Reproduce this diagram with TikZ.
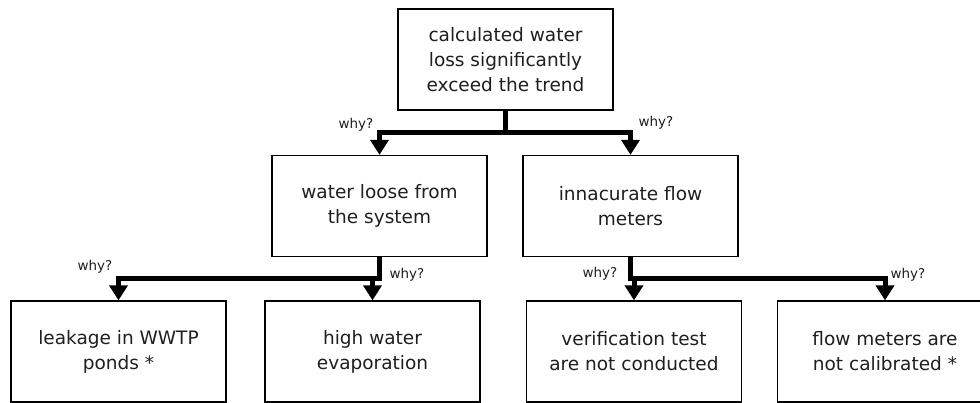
\documentclass[tikz,border=0pt]{standalone}
\usepackage{fontspec}
\setmainfont{DejaVu Sans}
\usetikzlibrary{arrows.meta}
\begin{document}
\begin{tikzpicture}[x=1pt,y=-1pt,
  box/.style={draw, line width=1.3pt, minimum width=215pt, minimum height=101pt, inner sep=0pt, align=center, text=black!88, font=\fontsize{18.5}{25}\selectfont},
  bar/.style={line width=5pt, line join=miter, -{Triangle[width=18pt,length=15pt]}},
  why/.style={font=\fontsize{13.5}{16}\selectfont, inner sep=0pt, text=black!88}]
\useasboundingbox (0,0) rectangle (980,403);
\clip (0,0) rectangle (980,403);
\fill[white] (0,0) rectangle (980,403);
\node[box] (top) at (505.5,59.5) {calculated water\\loss significantly\\exceed the trend};
\node[box] (a) at (379.5,206) {water loose from\\the system};
\node[box] (b) at (630.5,206) {innacurate flow\\meters};
\node[box] (a1) at (118.5,351.5) {leakage in WWTP\\ponds *};
\node[box] (a2) at (372.5,351.5) {high water\\evaporation};
\node[box] (b1) at (634,351.5) {verification test\\are not conducted};
\node[box] (b2) at (885,351.5) {flow meters are\\not calibrated *};
\coordinate (j0) at (505.5,133);
\coordinate (j1) at (379.5,279);
\coordinate (j2) at (630.5,279);
\draw[bar] (top.south) -- (j0) -| (a.north);
\draw[bar] (top.south) -- (j0) -| (b.north);
\draw[bar] (a.south) -- (j1) -| (a1.north);
\draw[bar] (a.south) -- (j1) -| (a2.north);
\draw[bar] (b.south) -- (j2) -| (b1.north);
\draw[bar] (b.south) -- (j2) -| (b2.north);
\node[why] (w1) at (356,125) {why?};
\node[why] (w2) at (656,123) {why?};
\node[why] (w3) at (95,267) {why?};
\node[why] (w4) at (407,275) {why?};
\node[why] (w5) at (600,274) {why?};
\node[why] (w6) at (908,275) {why?};
\end{tikzpicture}
\end{document}
